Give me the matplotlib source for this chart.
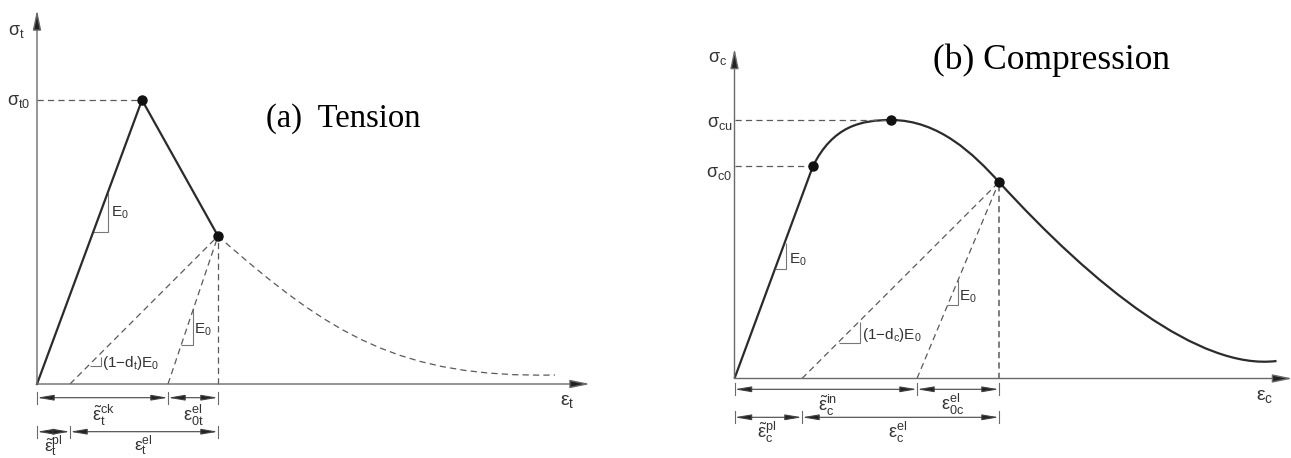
import matplotlib
matplotlib.use("Agg")
import matplotlib.pyplot as plt
from matplotlib.path import Path
from matplotlib.patches import PathPatch, Polygon

plt.rcParams["font.family"] = ["Liberation Sans", "DejaVu Sans"]
plt.rcParams["mathtext.fontset"] = "custom"
plt.rcParams["mathtext.rm"] = "Liberation Sans"
plt.rcParams["mathtext.it"] = "Liberation Sans"
plt.rcParams["mathtext.bf"] = "Liberation Sans:bold"
plt.rcParams["mathtext.default"] = "regular"
plt.rcParams["lines.scale_dashes"] = False

W, H = 1291, 458

# ---- (a) tension, units are px measured from the axis origin ----
T_ORIGIN = (37, 384)
T_AXIS_TOP = 374
T_AXIS_END = 553
t_load_x = [0, 105, 181]
t_load_y = [0, 284, 148]
t_tail_x = [181, 293, 363, 518]     # bezier control points of the softening tail
t_tail_y = [148, 49, 6, 9]
t_unload_feet = [33, 131]
t_tri_load = [(56, 152), (71, 152), (71, 191)]
t_tri_unload = [(144, 39), (156, 39), (156, 76)]
t_tri_damaged = [(53, 18), (64, 18), (64, 27)]
t_dim_row1 = [0, 131, 181]
t_dim_row2 = [0, 33, 181]

# ---- (b) compression ----
C_ORIGIN = (734.5, 378.5)
C_AXIS_TOP = 330
C_AXIS_END = 558
c_yield = (78.5, 212.5)
c_peak = (156.5, 258.5)
c_damage = (264.5, 196.5)
c_rise_ctrl = [(98.5, 252.5), (126.5, 258.5)]
c_fall_ctrl = [(204.5, 258.5), (239.5, 224.0)]
c_tail_ctrl = [(359.5, 92.5), (465.0, 8.0)]
c_end = (542.0, 17.5)
c_unload_feet = [67.5, 182.5]
c_tri_load = [(40.5, 110), (51.5, 110), (51.5, 136)]
c_tri_unload = [(212, 73.5), (223, 73.5), (223, 98.5)]
c_tri_damaged = [(104.5, 36), (125.5, 36), (125.5, 57)]
c_dim_row1 = [0, 182.5, 264.5]
c_dim_row2 = [0, 67.5, 264.5]

CURVE = "#2b2b2b"
AXIS = "#6a6a6a"
DASH = "#5a5a5a"
TXT = "#333333"
DASHES = (0, (4.5, 3.0))
SIG = 13     # stress labels
EPS = 13     # strain labels
SLOPE = 11   # slope triangle labels


def panel(fig, origin):
    ox, oy = origin
    ax = fig.add_axes([0, 0, 1, 1])
    ax.set_xlim(-ox, W - ox)
    ax.set_ylim(-(H - oy), oy)
    ax.axis("off")
    ax.patch.set_alpha(0)
    return ax


def axis_arrow(ax, tip):
    ax.annotate("", xy=tip, xytext=(0, 0), annotation_clip=False,
                arrowprops=dict(arrowstyle="-|>,head_length=1.2,head_width=0.25",
                                mutation_scale=10, shrinkA=0, shrinkB=0,
                                lw=1.0, color=AXIS, fc="#222222"))


def dashed(ax, xs, ys, lw=0.9):
    ax.plot(xs, ys, color=DASH, lw=lw, linestyle=DASHES)


def triangle(ax, pts):
    ax.add_patch(Polygon(pts, closed=False, fill=False, ec="#777777", lw=0.8))


def dim_row(ax, xs, y):
    for x in xs:
        ax.plot([x, x], [y - 6, y + 6], color=AXIS, lw=0.8)
    for x0, x1 in zip(xs[:-1], xs[1:]):
        ax.annotate("", xy=(x1, y), xytext=(x0, y), annotation_clip=False,
                    arrowprops=dict(arrowstyle="<|-|>,head_length=1.0,head_width=0.17",
                                    mutation_scale=10, shrinkA=0, shrinkB=0,
                                    lw=0.8, color="#444444", fc="#222222"))


def label(ax, x, y, s, size, **kw):
    ax.text(x, y, s, fontsize=size, color=TXT, va="center", **kw)


fig = plt.figure(figsize=(W / 100, H / 100), dpi=100)

# ================= (a) Tension =================
ax = panel(fig, T_ORIGIN)
axis_arrow(ax, (0, T_AXIS_TOP))
axis_arrow(ax, (T_AXIS_END, 0))
dashed(ax, [0, t_load_x[1]], [t_load_y[1], t_load_y[1]])
for foot in t_unload_feet:
    dashed(ax, [foot, t_load_x[2]], [0, t_load_y[2]])
dashed(ax, [t_load_x[2], t_load_x[2]], [0, t_load_y[2]])
tail = Path(list(zip(t_tail_x, t_tail_y)),
            [Path.MOVETO, Path.CURVE4, Path.CURVE4, Path.CURVE4])
ax.add_patch(PathPatch(tail, fill=False, ec=DASH, lw=0.9, linestyle=DASHES))
ax.plot(t_load_x, t_load_y, color=CURVE, lw=1.6, solid_joinstyle="miter")
ax.plot(t_load_x[1:], t_load_y[1:], "o", color="#111111", ms=6.5)
for tri in (t_tri_load, t_tri_unload, t_tri_damaged):
    triangle(ax, tri)
label(ax, 74, 171, "E$_0$", SLOPE)
label(ax, 157.5, 54, "E$_0$", SLOPE)
label(ax, 64.5, 21, "(1$-$d$_t$)E$_0$", SLOPE)
label(ax, -21, 352, r"$\sigma_t$", SIG, ha="center")
label(ax, -18, 282, r"$\sigma_{t0}$", SIG, ha="center")
label(ax, 530, -18, r"$\varepsilon_t$", 14, ha="center")
dim_row(ax, t_dim_row1, -13.7)
dim_row(ax, t_dim_row2, -47.7)
label(ax, 66, -31.5, r"$\tilde{\varepsilon}_t^{ck}$", EPS, ha="center")
label(ax, 156, -31.5, r"$\varepsilon_{0t}^{el}$", EPS, ha="center")
label(ax, 16, -62, r"$\tilde{\varepsilon}_t^{pl}$", 12.5, ha="center")
label(ax, 106, -62, r"$\varepsilon_t^{el}$", 12.5, ha="center")
ax.text(306, 257.3, "(a)  Tension", family="Liberation Serif", fontsize=23.5,
        color="black", ha="center", va="baseline")

# ================= (b) Compression =================
ax = panel(fig, C_ORIGIN)
axis_arrow(ax, (0, C_AXIS_TOP))
axis_arrow(ax, (C_AXIS_END, 0))
dashed(ax, [0, c_yield[0]], [c_yield[1], c_yield[1]])
dashed(ax, [0, c_peak[0]], [c_peak[1], c_peak[1]])
for foot in c_unload_feet:
    dashed(ax, [foot, c_damage[0]], [0, c_damage[1]])
dashed(ax, [c_damage[0], c_damage[0]], [0, c_damage[1]], lw=1.1)
verts = [(0, 0), c_yield, *c_rise_ctrl, c_peak, *c_fall_ctrl, c_damage, *c_tail_ctrl, c_end]
codes = [Path.MOVETO, Path.LINETO] + [Path.CURVE4] * 9
ax.add_patch(PathPatch(Path(verts, codes), fill=False, ec=CURVE, lw=1.6))
ax.plot(*zip(c_yield, c_peak, c_damage), "o", color="#111111", ms=6.5, ls="none")
for tri in (c_tri_load, c_tri_unload, c_tri_damaged):
    triangle(ax, tri)
label(ax, 54.5, 118.5, "E$_0$", SLOPE)
label(ax, 224.5, 82, "E$_0$", SLOPE)
label(ax, 127, 43.5, "(1$-$d$_c$)E$_0$", SLOPE)
label(ax, -16.5, 320, r"$\sigma_c$", SIG, ha="center")
label(ax, -14.5, 255, r"$\sigma_{cu}$", SIG, ha="center")
label(ax, -15.5, 205, r"$\sigma_{c0}$", SIG, ha="center")
label(ax, 530.5, -18, r"$\varepsilon_c$", 14, ha="center")
dim_row(ax, c_dim_row1, -10.8)
dim_row(ax, c_dim_row2, -38.8)
label(ax, 93.5, -27, r"$\tilde{\varepsilon}_c^{in}$", EPS, ha="center")
label(ax, 218.5, -26, r"$\varepsilon_{0c}^{el}$", EPS, ha="center")
label(ax, 32.5, -54, r"$\tilde{\varepsilon}_c^{pl}$", EPS, ha="center")
label(ax, 163.5, -54, r"$\varepsilon_c^{el}$", EPS, ha="center")
ax.text(317, 309.2, "(b) Compression", family="Liberation Serif", fontsize=25.5,
        color="black", ha="center", va="baseline")

fig.savefig("out.png", dpi=100)
